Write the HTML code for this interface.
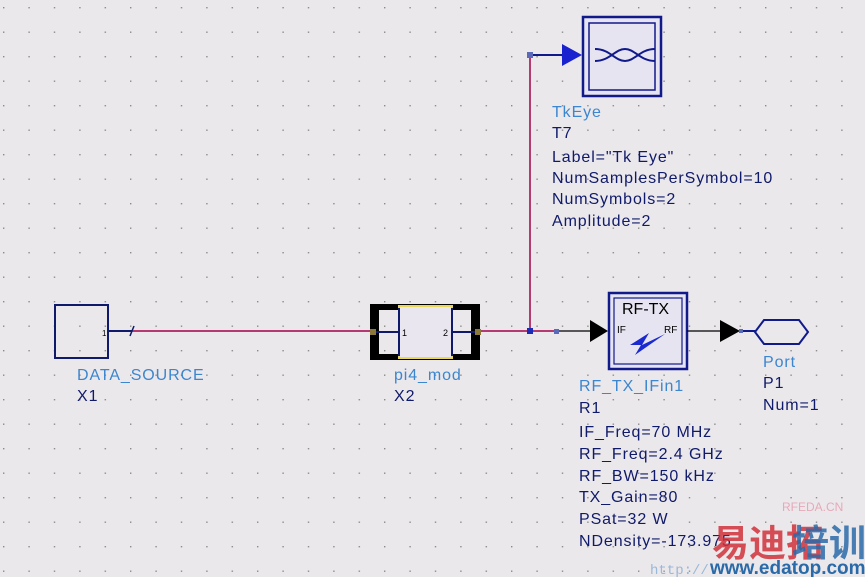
<!DOCTYPE html>
<html><head><meta charset="utf-8"><style>
html,body{margin:0;padding:0;background:#ebe8eb;}
svg{display:block}
text{font-family:"Liberation Sans",Arial,sans-serif;font-size:16px;letter-spacing:0.9px}
.b{fill:#3b86cf}.d{fill:#101a6a}
</style></head><body>
<svg width="865" height="577" viewBox="0 0 865 577" xmlns="http://www.w3.org/2000/svg">
<defs><pattern id="g" x="3" y="7" width="25.4" height="24.5" patternUnits="userSpaceOnUse"><rect x="0" y="0" width="1.4" height="1.4" fill="#8a8a8a"/></pattern></defs>
<rect width="865" height="577" fill="#ebe8eb"/>
<rect width="865" height="577" fill="url(#g)"/>
<polyline points="130,331 372,331" stroke="#b53a72" stroke-width="2" fill="none"/>
<polyline points="480,331 557,331" stroke="#b53a72" stroke-width="2" fill="none"/>
<polyline points="530,331 530,55" stroke="#b53a72" stroke-width="2" fill="none"/>
<rect x="55" y="305" width="53" height="53" fill="none" stroke="#101a6a" stroke-width="2"/>
<text x="102" y="336" style="font-size:8px;letter-spacing:0" fill="#000">1</text>
<line x1="108" y1="331" x2="132" y2="331" stroke="#101a6a" stroke-width="2"/>
<line x1="130" y1="336" x2="134" y2="326" stroke="#101a6a" stroke-width="1.5"/>
<rect x="370" y="304" width="9" height="56" fill="#000"/>
<rect x="471" y="304" width="9" height="56" fill="#000"/>
<rect x="370" y="304" width="110" height="6" fill="#000"/>
<rect x="370" y="354" width="110" height="6" fill="#000"/>
<rect x="399" y="306" width="53" height="52" fill="#e9e6f0" stroke="#e7d85a" stroke-width="2"/>
<line x1="399" y1="308" x2="399" y2="356" stroke="#101a6a" stroke-width="2"/>
<line x1="452" y1="308" x2="452" y2="356" stroke="#101a6a" stroke-width="2"/>
<line x1="376" y1="332" x2="399" y2="332" stroke="#101a6a" stroke-width="2"/>
<line x1="452" y1="332" x2="476" y2="332" stroke="#101a6a" stroke-width="2"/>
<rect x="370" y="329" width="6" height="6" fill="#8b7a3a"/>
<rect x="475" y="329" width="6" height="6" fill="#8b7a3a"/>
<text x="402" y="336" style="font-size:9px;letter-spacing:0" fill="#000">1</text>
<text x="443" y="336" style="font-size:9px;letter-spacing:0" fill="#000">2</text>
<rect x="527" y="328" width="6" height="6" fill="#1c2ab8"/>
<rect x="527" y="52" width="6" height="6" fill="#5a6ab8"/>
<line x1="533" y1="55" x2="563" y2="55" stroke="#101a8a" stroke-width="2"/>
<polygon points="562,44 582,55 562,66" fill="#1a22d0"/>
<rect x="583" y="17" width="78" height="79" fill="#e6e4f0" stroke="#101a8a" stroke-width="2.5"/>
<rect x="589" y="23" width="66" height="67" fill="none" stroke="#101a8a" stroke-width="1.5"/>
<path d="M595,49 C610,49 615,61 625,61 C635,61 640,49 655,49 M595,61 C610,61 615,49 625,49 C635,49 640,61 655,61" stroke="#101a8a" stroke-width="2" fill="none"/>
<text x="552" y="117" class="b">TkEye</text>
<text x="552" y="138" class="d">T7</text>
<text x="552" y="162" class="d">Label="Tk Eye"</text>
<text x="552" y="183" class="d">NumSamplesPerSymbol=10</text>
<text x="552" y="204" class="d">NumSymbols=2</text>
<text x="552" y="226" class="d">Amplitude=2</text>
<rect x="554" y="329" width="5" height="5" fill="#5a6ab8"/>
<line x1="559" y1="331" x2="592" y2="331" stroke="#000" stroke-width="1.2"/>
<polygon points="590,320 608,331 590,342" fill="#000"/>
<rect x="609" y="293" width="78" height="76" fill="#e6e4f0" stroke="#101a8a" stroke-width="2.5"/>
<rect x="614" y="298" width="68" height="66" fill="none" stroke="#101a8a" stroke-width="1.2"/>
<text x="622" y="314" style="font-size:16px;letter-spacing:0" fill="#000">RF-TX</text>
<text x="617" y="333" style="font-size:10px;letter-spacing:0" fill="#000">IF</text>
<text x="664" y="333" style="font-size:10px;letter-spacing:0" fill="#000">RF</text>
<polygon points="630,345 649,333 642,345 665,334 635,355 641,345" fill="#1a2ad0"/>
<line x1="687" y1="331" x2="722" y2="331" stroke="#000" stroke-width="1.2"/>
<polygon points="720,320 740,331 720,342" fill="#000"/>
<line x1="740" y1="331" x2="755" y2="331" stroke="#101a8a" stroke-width="2"/>
<rect x="739" y="329" width="4" height="4" fill="#5a6ab8"/>
<polygon points="755,332 764,320 799,320 808,332 799,344 764,344" fill="#ebe8eb" stroke="#101a8a" stroke-width="2"/>
<text x="763" y="367" class="b">Port</text>
<text x="763" y="388" class="d">P1</text>
<text x="763" y="410" class="d">Num=1</text>
<text x="77" y="380" class="b">DATA_SOURCE</text>
<text x="77" y="401" class="d">X1</text>
<text x="394" y="380" class="b">pi4_mod</text>
<text x="394" y="401" class="d">X2</text>
<text x="579" y="391" class="b">RF_TX_IFin1</text>
<text x="579" y="413" class="d">R1</text>
<text x="579" y="437" class="d">IF_Freq=70 MHz</text>
<text x="579" y="459" class="d">RF_Freq=2.4 GHz</text>
<text x="579" y="481" class="d">RF_BW=150 kHz</text>
<text x="579" y="502" class="d">TX_Gain=80</text>
<text x="579" y="524" class="d">PSat=32 W</text>
<text x="579" y="546" class="d">NDensity=-173.975</text>
<text x="782" y="511" style="font-size:12px;letter-spacing:0" fill="#e8a8b8">RFEDA.CN</text>
<text x="712" y="556" style="font-size:37px;letter-spacing:0;font-weight:bold;font-family:'Liberation Sans','Noto Sans CJK SC',sans-serif" fill="#d0303a" fill-opacity="0.85">易迪拓</text>
<text x="792" y="556" style="font-size:37px;letter-spacing:0;font-weight:bold;font-family:'Liberation Sans','Noto Sans CJK SC',sans-serif" fill="#2a6aa8" fill-opacity="0.85">培训</text>
<text x="710" y="574" style="font-size:19px;letter-spacing:0;font-weight:bold" fill="#2a6aa8">www.edatop.com</text>
<text x="650" y="574" style="font-size:14px;letter-spacing:0;font-family:'Liberation Mono',monospace" fill="#9ab8d8">http://</text>
</svg>
</body></html>
